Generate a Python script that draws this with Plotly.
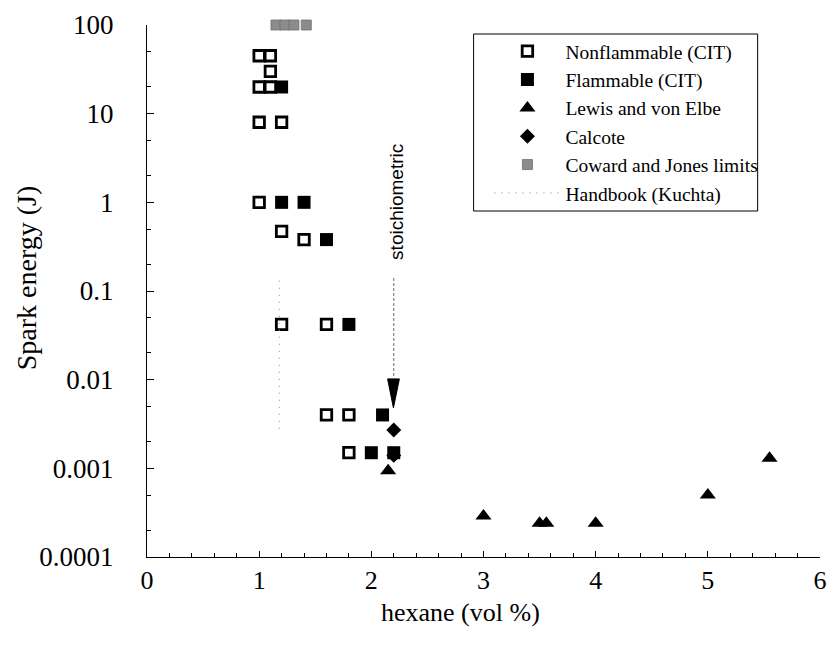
import plotly.graph_objects as go

# ---------------- data ----------------
nonflam_x = [1.0, 1.1, 1.1, 1.0, 1.1, 1.0, 1.2, 1.0, 1.2, 1.4, 1.2, 1.6, 1.6, 1.8, 1.8]
nonflam_y = [45, 45, 30, 20, 20, 8, 8, 1.0, 0.47, 0.38, 0.042, 0.042, 0.004, 0.004, 0.0015]

flam_x = [1.2, 1.2, 1.4, 1.6, 1.8, 2.1, 2.0, 2.2]
flam_y = [20, 1.0, 1.0, 0.38, 0.042, 0.004, 0.0015, 0.0015]

lewis_x = [2.15, 3.0, 3.5, 3.56, 4.0, 5.0, 5.55]
lewis_y = [0.00094, 0.00029, 0.00024, 0.00024, 0.00024, 0.0005, 0.0013]

calcote_x = [2.2, 2.2]
calcote_y = [0.0027, 0.0014]

coward_x = [1.15, 1.23, 1.31, 1.42]
coward_y = [100, 100, 100, 100]

kuchta_x = [1.18, 1.18]
kuchta_y = [0.0028, 0.14]

stoich_x = 2.2
stoich_line_y = [0.14, 0.011]
arrow_x = [2.145, 2.25, 2.197, 2.145]
arrow_y = [0.0102, 0.0102, 0.0048, 0.0102]

y_tickvals = [0.0001, 0.001, 0.01, 0.1, 1, 10, 100]
y_ticktext = ["0.0001", "0.001", "0.01", "0.1", "1", "10", "100"]
x_tickvals = [0, 1, 2, 3, 4, 5, 6]

SERIF = "Liberation Serif"

fig = go.Figure()

fig.add_trace(go.Scatter(
    x=calcote_x, y=calcote_y, mode="markers", name="Calcote", legendrank=4,
    marker=dict(symbol="diamond", size=11.5, color="black", line=dict(width=0)),
    cliponaxis=False))
fig.add_trace(go.Scatter(
    x=nonflam_x, y=nonflam_y, mode="markers", name="Nonflammable (CIT)", legendrank=1,
    marker=dict(symbol="square-open", size=10.5, color="black", line=dict(width=2.8, color="black")),
    cliponaxis=False))
fig.add_trace(go.Scatter(
    x=flam_x, y=flam_y, mode="markers", name="Flammable (CIT)", legendrank=2,
    marker=dict(symbol="square", size=13, color="black", line=dict(width=0)),
    cliponaxis=False))
fig.add_trace(go.Scatter(
    x=lewis_x, y=lewis_y, mode="markers", name="Lewis and von Elbe", legendrank=3,
    marker=dict(symbol="triangle-up", size=14, color="black", line=dict(width=0)),
    cliponaxis=False))
fig.add_trace(go.Scatter(
    x=coward_x, y=coward_y, mode="markers", name="Coward and Jones limits", legendrank=5,
    marker=dict(symbol="square", size=10, color="#8c8c8c", line=dict(width=0.8, color="#6e6e6e")),
    cliponaxis=False))
fig.add_trace(go.Scatter(
    x=kuchta_x, y=kuchta_y, mode="lines", name="Handbook (Kuchta)", legendrank=6,
    line=dict(color="#9a9a9a", width=1.2, dash="1px,6px"),
    cliponaxis=False))
# stoichiometric marker line + arrow head
fig.add_trace(go.Scatter(
    x=[stoich_x, stoich_x], y=stoich_line_y, mode="lines", showlegend=False,
    line=dict(color="#666666", width=1, dash="3px,2px")))
fig.add_trace(go.Scatter(
    x=arrow_x, y=arrow_y, mode="lines", fill="toself", fillcolor="black",
    line=dict(color="black", width=1), showlegend=False))

fig.add_annotation(
    x=2.225, y=0, xref="x", yref="y", text="stoichiometric", showarrow=False,
    textangle=-90, font=dict(family="Liberation Sans", size=19, color="black"))

# axis titles
fig.add_annotation(
    x=(464 - 147) / 680, y=(557 - 612) / 532, xref="paper", yref="paper",
    xanchor="center", yanchor="middle", text="hexane (vol %)", showarrow=False,
    font=dict(family=SERIF, size=26, color="black"))
fig.add_annotation(
    x=(25 - 147) / 680, y=(557 - 278) / 532, xref="paper", yref="paper",
    xanchor="center", yanchor="middle", text="Spark energy (J)", showarrow=False,
    textangle=-90, font=dict(family=SERIF, size=28, color="black"))

# legend frame
fig.add_shape(type="rect", xref="paper", yref="paper",
              x0=(477 - 147) / 680, x1=(764 - 147) / 680,
              y0=(557 - 211) / 532, y1=(557 - 34) / 532,
              line=dict(color="black", width=1), fillcolor="rgba(0,0,0,0)")

fig.update_layout(
    width=836, height=651,
    margin=dict(l=147, r=9, t=25, b=94),
    paper_bgcolor="white", plot_bgcolor="white",
    font=dict(family=SERIF, color="black"),
    showlegend=True,
    legend=dict(x=(493 - 147) / 680, y=(557 - 32) / 532, xanchor="left", yanchor="top",
                bgcolor="rgba(0,0,0,0)", borderwidth=0, itemwidth=66,
                font=dict(family=SERIF, size=19.5, color="black"),
                traceorder="normal"),
    xaxis=dict(range=[0, 6], tickvals=x_tickvals, showline=True, linecolor="black", linewidth=1,
               ticks="inside", ticklen=6, tickcolor="black", showgrid=False, zeroline=False,
               tickfont=dict(family=SERIF, size=26), ticklabelstandoff=0,
               minor=dict(ticks="inside", ticklen=4, dtick=0.2, tickcolor="black", showgrid=False)),
    yaxis=dict(type="log", range=[-4, 2], tickvals=y_tickvals, ticktext=y_ticktext,
               showline=True, linecolor="black", linewidth=1,
               ticks="inside", ticklen=7, tickcolor="black", showgrid=False, zeroline=False,
               tickfont=dict(family=SERIF, size=27), ticklabelstandoff=27,
               minor=dict(ticks="inside", ticklen=4, tickcolor="black", showgrid=False)),
)

fig.write_html("out.html")
